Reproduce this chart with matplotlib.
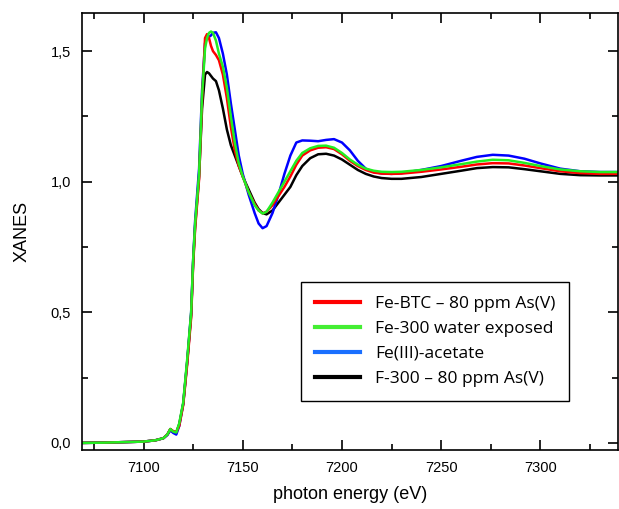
import matplotlib
matplotlib.use('Agg')
import matplotlib.pyplot as plt
from matplotlib.lines import Line2D
from matplotlib.ticker import MultipleLocator, FuncFormatter

# photon energy grid (eV), shared by all spectra
energy = [7069, 7080, 7090, 7100, 7106, 7110, 7112, 7113.5, 7115, 7116.5,
          7118, 7120, 7122, 7124, 7125, 7126, 7128, 7129.5, 7131, 7132, 7133,
          7134, 7135, 7136.5, 7138, 7140, 7142, 7144, 7146, 7148, 7150,
          7153, 7156, 7158, 7160, 7162, 7165, 7168, 7171, 7174, 7177,
          7180, 7184, 7188, 7192, 7196, 7200, 7204, 7208, 7212, 7216,
          7220, 7225, 7230, 7240, 7250, 7260, 7268, 7276, 7284, 7292,
          7300, 7310, 7320, 7330, 7339]

fe_btc = [0.0, 0.001, 0.003, 0.005, 0.01, 0.018, 0.032, 0.053, 0.045, 0.042,
          0.065, 0.145, 0.30, 0.48, 0.68, 0.82, 1.01, 1.31, 1.55, 1.565, 1.55,
          1.52, 1.50, 1.485, 1.465, 1.41, 1.32, 1.21, 1.12, 1.06, 1.02,
          0.96, 0.915, 0.89, 0.879, 0.885, 0.91, 0.945, 0.98, 1.02, 1.065,
          1.10, 1.12, 1.13, 1.132, 1.125, 1.105, 1.08, 1.06, 1.045, 1.035,
          1.031, 1.03, 1.031, 1.038, 1.047, 1.057, 1.066, 1.071, 1.07, 1.062,
          1.052, 1.04, 1.033, 1.03, 1.03]

fe300 = [0.0, 0.001, 0.003, 0.005, 0.01, 0.018, 0.032, 0.053, 0.043, 0.04,
         0.075, 0.155, 0.32, 0.50, 0.70, 0.84, 1.03, 1.33, 1.51, 1.55, 1.57,
         1.575, 1.57, 1.54, 1.49, 1.44, 1.36, 1.25, 1.15, 1.07, 1.02,
         0.96, 0.91, 0.89, 0.878, 0.885, 0.92, 0.96, 1.0, 1.04, 1.08,
         1.11, 1.128, 1.137, 1.138, 1.13, 1.11, 1.085, 1.065, 1.05, 1.042,
         1.038, 1.037, 1.038, 1.045, 1.055, 1.067, 1.077, 1.084, 1.082, 1.072,
         1.06, 1.047, 1.04, 1.037, 1.037]

fe_acetate = [0.0, 0.001, 0.003, 0.005, 0.01, 0.018, 0.03, 0.048, 0.038, 0.032,
              0.065, 0.15, 0.31, 0.50, 0.70, 0.85, 1.05, 1.35, 1.53, 1.55, 1.555,
              1.56, 1.57, 1.572, 1.55, 1.49, 1.41, 1.30, 1.20, 1.10, 1.03,
              0.95, 0.88, 0.84, 0.822, 0.83, 0.88, 0.95, 1.03, 1.10, 1.15,
              1.158, 1.157, 1.155, 1.16, 1.163, 1.15, 1.12, 1.08, 1.05, 1.037,
              1.032, 1.03, 1.033, 1.045, 1.06, 1.08, 1.095, 1.103, 1.10, 1.088,
              1.07, 1.05, 1.04, 1.037, 1.037]

f300_as = [0.0, 0.001, 0.003, 0.005, 0.01, 0.018, 0.032, 0.053, 0.043, 0.04,
           0.072, 0.15, 0.31, 0.49, 0.69, 0.83, 1.02, 1.28, 1.41, 1.42, 1.415,
           1.405, 1.395, 1.385, 1.35, 1.28, 1.20, 1.14, 1.10, 1.06, 1.02,
           0.97, 0.92, 0.895, 0.88, 0.875, 0.89, 0.92, 0.95, 0.98, 1.025,
           1.06, 1.09, 1.105, 1.107, 1.10, 1.085, 1.065, 1.045, 1.03, 1.02,
           1.014, 1.011, 1.011, 1.018, 1.03, 1.042, 1.052, 1.056, 1.055, 1.048,
           1.04, 1.03, 1.025, 1.024, 1.024]

labels = ['Fe-BTC \u2013 80 ppm As(V)', 'Fe-300 water exposed',
          'Fe(III)-acetate', 'F-300 \u2013 80 ppm As(V)']

plt.rcParams['font.family'] = ['Liberation Sans', 'DejaVu Sans']

fig = plt.figure(figsize=(6.19, 5.09), dpi=100)
ax = fig.add_axes([0.1325, 0.116, 0.8655, 0.858])

# draw order: black, blue, red, green on top
ax.plot(energy, f300_as, color='black', lw=1.8)
ax.plot(energy, fe_acetate, color='#0000ff', lw=1.8)
ax.plot(energy, fe_btc, color='#ff0000', lw=1.8)
ax.plot(energy, fe300, color='#22ee22', lw=1.8)

ax.set_xlim(7069, 7339)
ax.set_ylim(-0.027, 1.645)
ax.xaxis.set_major_locator(MultipleLocator(50))
ax.xaxis.set_minor_locator(MultipleLocator(25))
ax.yaxis.set_major_locator(MultipleLocator(0.5))
ax.yaxis.set_minor_locator(MultipleLocator(0.25))
ax.yaxis.set_major_formatter(FuncFormatter(lambda v, p: ('%.1f' % v).replace('.', ',')))
ax.tick_params(which='both', direction='in', top=True, right=True, width=1.2)
ax.tick_params(which='major', length=7, labelsize=10.5, pad=8)
ax.tick_params(which='minor', length=4)
for s in ax.spines.values():
    s.set_linewidth(1.2)

ax.set_xlabel('photon energy (eV)', fontsize=13, labelpad=8)
ax.set_ylabel('XANES', fontsize=13, labelpad=14)

handles = [Line2D([], [], color='#ff0000', lw=3),
           Line2D([], [], color='#44ee33', lw=3),
           Line2D([], [], color='#1a6fff', lw=3),
           Line2D([], [], color='black', lw=3)]
leg = ax.legend(handles, labels, loc='upper left', bbox_to_anchor=(0.409, 0.384),
                borderaxespad=0, fancybox=False, edgecolor='black', framealpha=1,
                prop={'family': 'Open Sans', 'size': 12.5}, handlelength=2.6,
                labelspacing=0.5, borderpad=0.8, handletextpad=0.85)
leg.get_frame().set_linewidth(1.0)

fig.savefig('out.png', dpi=100)
